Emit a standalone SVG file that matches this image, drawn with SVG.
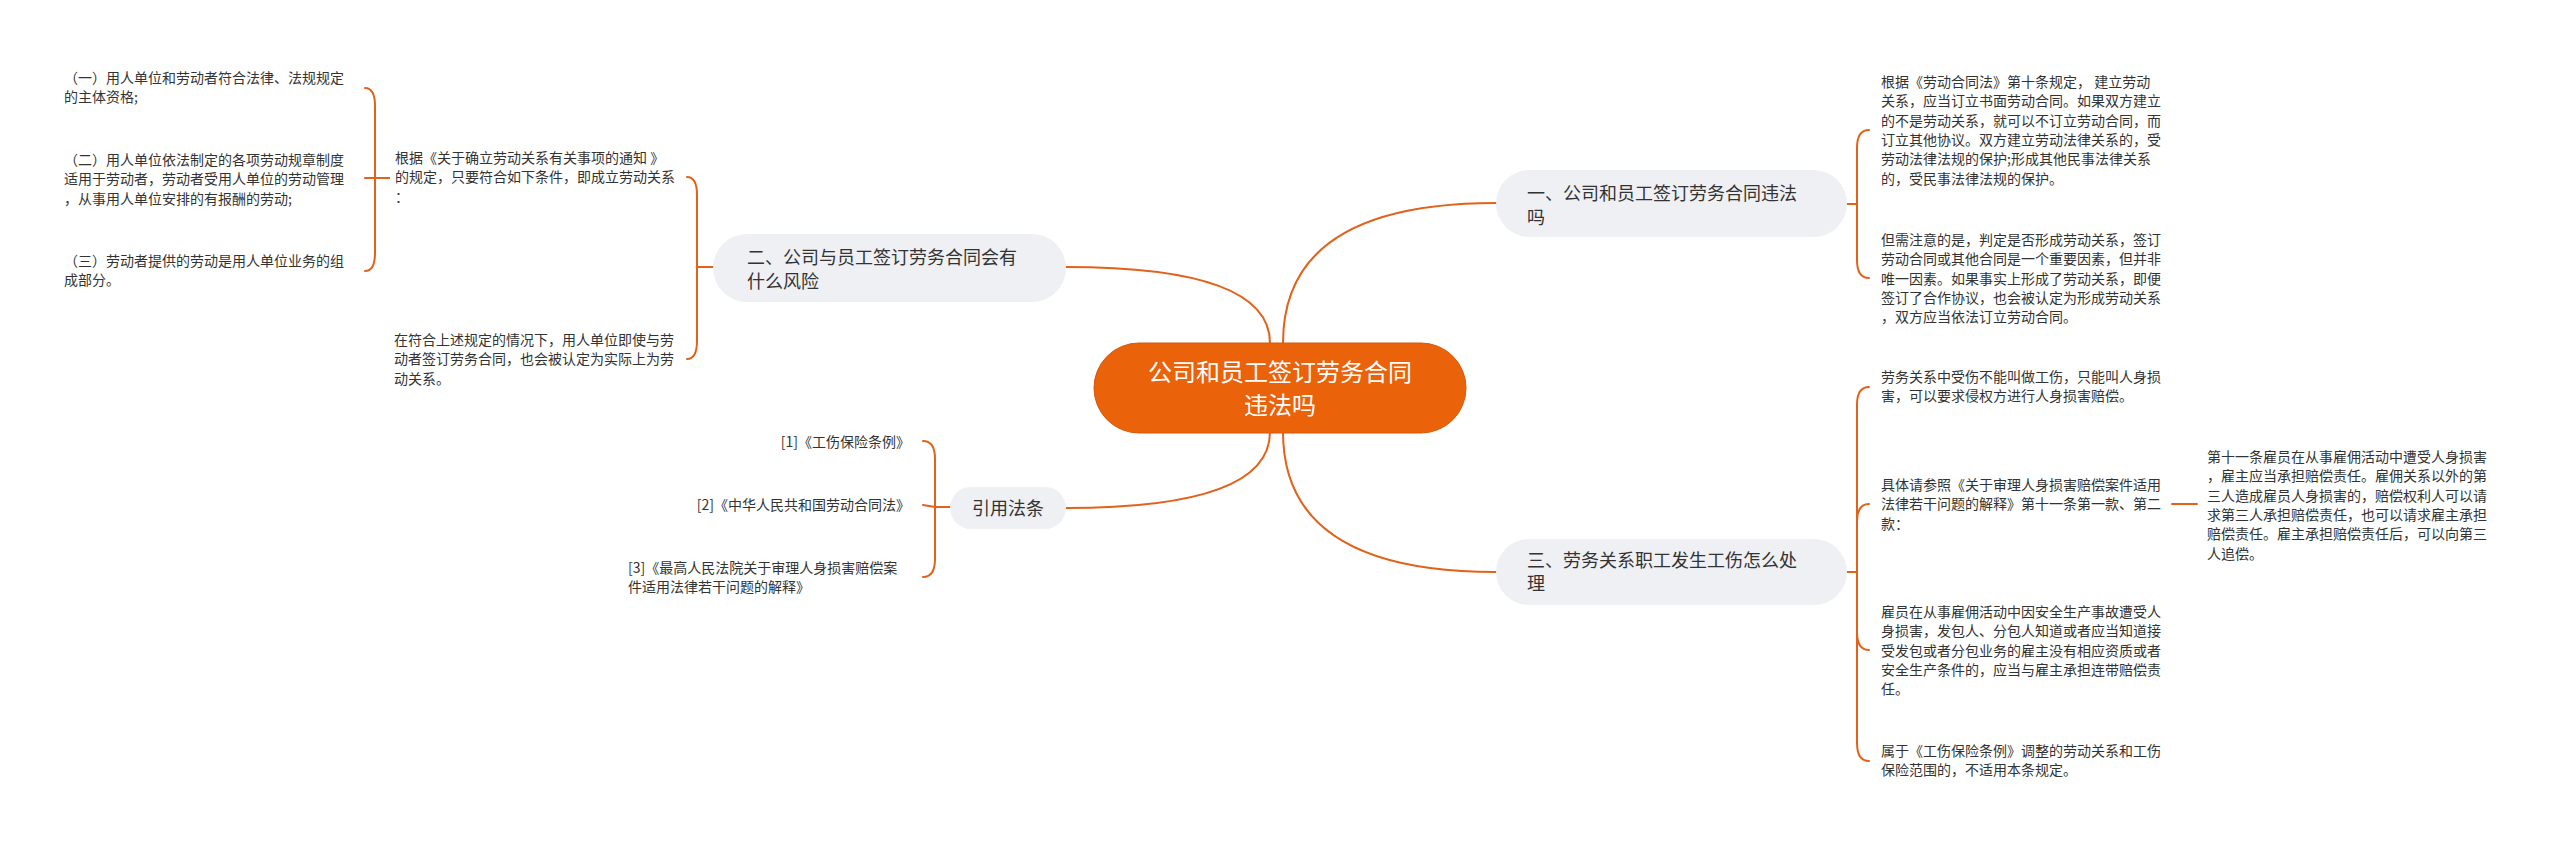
<svg xmlns="http://www.w3.org/2000/svg" width="2560" height="845" viewBox="0 0 2560 845">
<style>
.bg{fill:#ffffff}
.ln{fill:none;stroke:#E2621A;stroke-width:2;stroke-linecap:round}
.root{fill:#EA620A;stroke:#D9590A;stroke-width:1}
.br{fill:#EEF0F3}
text{font-family:"Noto Sans CJK SC","Noto Sans",sans-serif;fill:#333333}
.rt{font-size:24px;fill:#ffffff;text-anchor:middle}
.bt{font-size:18px}
.ct{font-size:14px}
.end{text-anchor:end}
</style>
<rect class="bg" x="0" y="0" width="2560" height="845"/>
<g id="connectors">
<path class="ln" d="M1283,343 Q1283,203 1496,203"/>
<path class="ln" d="M1283,432 Q1283,572 1496,572"/>
<path class="ln" d="M1270,343 Q1270,267 1066,267"/>
<path class="ln" d="M1270,432 Q1270,508 1066,508"/>
<path class="ln" d="M1847,204 H1857 V148 Q1857,130 1869,130"/>
<path class="ln" d="M1847,204 H1857 V260 Q1857,278 1869,278"/>
<path class="ln" d="M1847,572 H1857 V405 Q1857,387 1869,387"/>
<path class="ln" d="M1847,572 H1857 V522 Q1857,504 1869,504"/>
<path class="ln" d="M1847,572 H1857 V632 Q1857,650 1869,650"/>
<path class="ln" d="M1847,572 H1857 V743 Q1857,761 1869,761"/>
<path class="ln" d="M2172,504 H2197"/>
<path class="ln" d="M713,267 H697 V195 Q697,177 687,177"/>
<path class="ln" d="M713,267 H697 V341 Q697,359 687,359"/>
<path class="ln" d="M389,178 H375 V106 Q375,88 365,88"/>
<path class="ln" d="M389,178 H365"/>
<path class="ln" d="M389,178 H375 V253 Q375,271 365,271"/>
<path class="ln" d="M950,507 H935 V459 Q935,441 923,441"/>
<path class="ln" d="M950,507 H935 L923,505"/>
<path class="ln" d="M950,507 H935 V559 Q935,577 923,577"/>
</g>
<g id="root">
<rect class="root" x="1094" y="343" width="372" height="90" rx="45"/>
<text class="rt" x="1280" y="380.5">公司和员工签订劳务合同</text>
<text class="rt" x="1280" y="413.5">违法吗</text>
</g>
<g id="b1">
<rect class="br" x="1496" y="170" width="351" height="67" rx="33.5"/>
<text class="bt" x="1527" y="199.5">一、公司和员工签订劳务合同违法</text>
<text class="bt" x="1527" y="223.5">吗</text>
</g>
<g id="b1c1">
<text class="ct" x="1881" y="87">根据《劳动合同法》第十条规定， 建立劳动</text>
<text class="ct" x="1881" y="106.3">关系，应当订立书面劳动合同。如果双方建立</text>
<text class="ct" x="1881" y="125.6">的不是劳动关系，就可以不订立劳动合同，而</text>
<text class="ct" x="1881" y="144.9">订立其他协议。双方建立劳动法律关系的，受</text>
<text class="ct" x="1881" y="164.2">劳动法律法规的保护;形成其他民事法律关系</text>
<text class="ct" x="1881" y="183.5">的，受民事法律法规的保护。</text>
</g>
<g id="b1c2">
<text class="ct" x="1881" y="245">但需注意的是，判定是否形成劳动关系，签订</text>
<text class="ct" x="1881" y="264.3">劳动合同或其他合同是一个重要因素，但并非</text>
<text class="ct" x="1881" y="283.6">唯一因素。如果事实上形成了劳动关系，即便</text>
<text class="ct" x="1881" y="302.9">签订了合作协议，也会被认定为形成劳动关系</text>
<text class="ct" x="1881" y="322.2">，双方应当依法订立劳动合同。</text>
</g>
<g id="b3">
<rect class="br" x="1496" y="539" width="351" height="66" rx="33"/>
<text class="bt" x="1527" y="566.5">三、劳务关系职工发生工伤怎么处</text>
<text class="bt" x="1527" y="589.5">理</text>
</g>
<g id="b3c1">
<text class="ct" x="1881" y="382">劳务关系中受伤不能叫做工伤，只能叫人身损</text>
<text class="ct" x="1881" y="401.3">害，可以要求侵权方进行人身损害赔偿。</text>
</g>
<g id="b3c2">
<text class="ct" x="1881" y="490">具体请参照《关于审理人身损害赔偿案件适用</text>
<text class="ct" x="1881" y="509.3">法律若干问题的解释》第十一条第一款、第二</text>
<text class="ct" x="1881" y="528.6">款：</text>
</g>
<g id="b3c2g1">
<text class="ct" x="2207" y="462">第十一条雇员在从事雇佣活动中遭受人身损害</text>
<text class="ct" x="2207" y="481.3">，雇主应当承担赔偿责任。雇佣关系以外的第</text>
<text class="ct" x="2207" y="500.6">三人造成雇员人身损害的，赔偿权利人可以请</text>
<text class="ct" x="2207" y="519.9">求第三人承担赔偿责任，也可以请求雇主承担</text>
<text class="ct" x="2207" y="539.2">赔偿责任。雇主承担赔偿责任后，可以向第三</text>
<text class="ct" x="2207" y="558.5">人追偿。</text>
</g>
<g id="b3c3">
<text class="ct" x="1881" y="617">雇员在从事雇佣活动中因安全生产事故遭受人</text>
<text class="ct" x="1881" y="636.3">身损害，发包人、分包人知道或者应当知道接</text>
<text class="ct" x="1881" y="655.6">受发包或者分包业务的雇主没有相应资质或者</text>
<text class="ct" x="1881" y="674.9">安全生产条件的，应当与雇主承担连带赔偿责</text>
<text class="ct" x="1881" y="694.2">任。</text>
</g>
<g id="b3c4">
<text class="ct" x="1881" y="756">属于《工伤保险条例》调整的劳动关系和工伤</text>
<text class="ct" x="1881" y="775.3">保险范围的，不适用本条规定。</text>
</g>
<g id="b2">
<rect class="br" x="713" y="234" width="353" height="68" rx="34"/>
<text class="bt" x="747" y="263.5">二、公司与员工签订劳务合同会有</text>
<text class="bt" x="747" y="287.5">什么风险</text>
</g>
<g id="b2c1">
<text class="ct" x="395" y="163">根据《关于确立劳动关系有关事项的通知 》</text>
<text class="ct" x="395" y="182.3">的规定，只要符合如下条件，即成立劳动关系</text>
<text class="ct" x="395" y="201.6">：</text>
</g>
<g id="b2c1g1">
<text class="ct" x="64" y="83">（一）用人单位和劳动者符合法律、法规规定</text>
<text class="ct" x="64" y="102.3">的主体资格;</text>
</g>
<g id="b2c1g2">
<text class="ct" x="64" y="165">（二）用人单位依法制定的各项劳动规章制度</text>
<text class="ct" x="64" y="184.3">适用于劳动者，劳动者受用人单位的劳动管理</text>
<text class="ct" x="64" y="203.6">，从事用人单位安排的有报酬的劳动;</text>
</g>
<g id="b2c1g3">
<text class="ct" x="64" y="266">（三）劳动者提供的劳动是用人单位业务的组</text>
<text class="ct" x="64" y="285.3">成部分。</text>
</g>
<g id="b2c2">
<text class="ct" x="394" y="345">在符合上述规定的情况下，用人单位即使与劳</text>
<text class="ct" x="394" y="364.3">动者签订劳务合同，也会被认定为实际上为劳</text>
<text class="ct" x="394" y="383.6">动关系。</text>
</g>
<g id="b4">
<rect class="br" x="950" y="487" width="116" height="42" rx="21"/>
<text class="bt" x="1008" y="514.5" text-anchor="middle">引用法条</text>
</g>
<g id="b4c1">
<text class="ct end" x="910" y="447">[1]《工伤保险条例》</text>
</g>
<g id="b4c2">
<text class="ct end" x="910" y="510">[2]《中华人民共和国劳动合同法》</text>
</g>
<g id="b4c3">
<text class="ct" x="628" y="573">[3]《最高人民法院关于审理人身损害赔偿案</text>
<text class="ct" x="628" y="592.3">件适用法律若干问题的解释》</text>
</g>
</svg>
